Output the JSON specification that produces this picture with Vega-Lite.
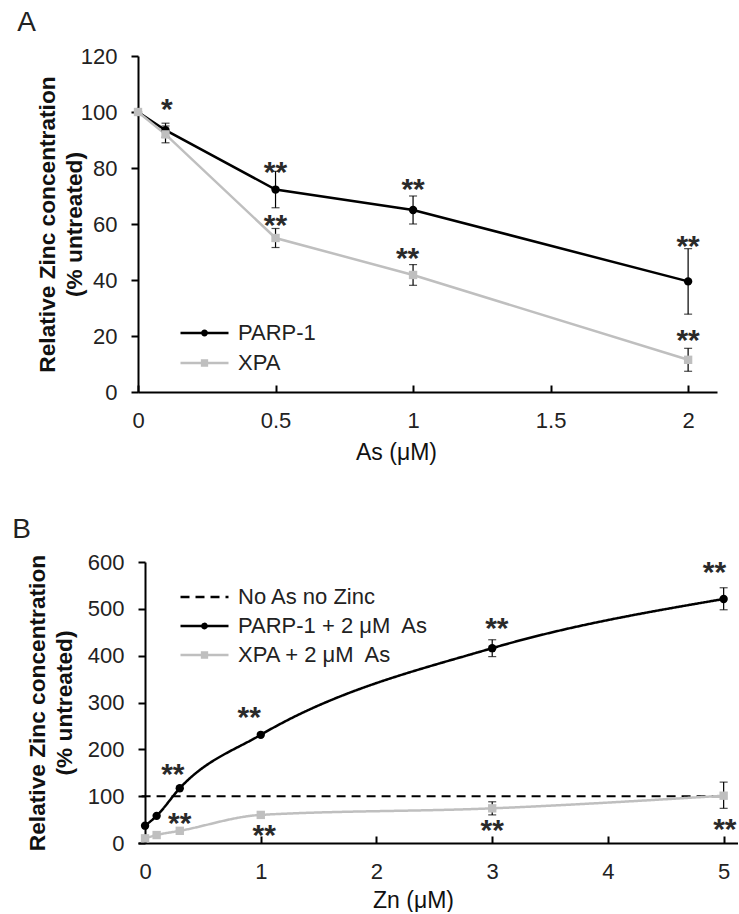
{
  "$schema": "https://vega.github.io/schema/vega-lite/v6.json",
  "background": "white",
  "padding": {"left": 12, "top": 9, "right": 0, "bottom": 0},
  "spacing": 52,
  "resolve": {
    "scale": {"stroke": "independent", "fill": "independent", "shape": "independent", "strokeDash": "independent"},
    "legend": {"stroke": "independent", "fill": "independent", "shape": "independent", "strokeDash": "independent"}
  },
  "config": {
    "font": "Liberation Sans",
    "view": {"stroke": null},
    "axis": {
      "grid": false,
      "domainColor": "black",
      "domainWidth": 2,
      "tickColor": "black",
      "tickWidth": 2,
      "tickSize": 7,
      "labelFont": "Liberation Sans",
      "labelFontSize": 22,
      "labelColor": "#222222",
      "titleFont": "Liberation Sans",
      "titleFontSize": 23,
      "titleColor": "#111111",
      "titleFontWeight": "normal"
    },
    "legend": {"padding": 0, "labelFont": "Liberation Sans", "labelFontSize": 22, "labelColor": "#222222", "labelLimit": 0},
    "title": {"fontSize": 28, "fontWeight": "normal", "anchor": "start", "frame": "bounds", "color": "#222222", "font": "Liberation Sans"}
  },
  "vconcat": [
    {
      "width": 579,
      "height": 336,
      "title": {"text": "A", "dx": -19, "offset": 8},
      "data": {
        "values": [
          {"series": "PARP-1", "x": 0, "v": 100, "lo": null, "hi": null},
          {"series": "PARP-1", "x": 0.1, "v": 93.5, "lo": 91, "hi": 96},
          {"series": "PARP-1", "x": 0.5, "v": 72.3, "lo": 65.8, "hi": 78.8},
          {"series": "PARP-1", "x": 1, "v": 65, "lo": 60, "hi": 70},
          {"series": "PARP-1", "x": 2, "v": 39.5, "lo": 27.8, "hi": 51.2},
          {"series": "XPA", "x": 0, "v": 100, "lo": null, "hi": null},
          {"series": "XPA", "x": 0.1, "v": 92, "lo": 89, "hi": 95},
          {"series": "XPA", "x": 0.5, "v": 55, "lo": 51.6, "hi": 58.4},
          {"series": "XPA", "x": 1, "v": 41.8, "lo": 38.1, "hi": 45.5},
          {"series": "XPA", "x": 2, "v": 11.5, "lo": 7.4, "hi": 15.6}
        ]
      },
      "encoding": {
        "x": {
          "field": "x", "type": "quantitative",
          "scale": {"domain": [0, 2.105], "nice": false, "zero": false},
          "axis": {"values": [0, 0.5, 1, 1.5, 2], "format": "~g", "title": "As (μM)", "tickSize": -7, "labelPadding": 25, "titlePadding": 10, "titleX": 258, "labelFlush": false}
        },
        "y": {
          "field": "v", "type": "quantitative",
          "scale": {"domain": [0, 120], "nice": false},
          "axis": {"values": [0, 20, 40, 60, 80, 100, 120], "title": ["Relative Zinc concentration", "(% untreated)"], "titleFontWeight": "bold", "titleFontSize": 22.7, "titleLineHeight": 27, "labelPadding": 14, "titlePadding": -6}
        }
      },
      "layer": [
        {
          "mark": {"type": "line", "strokeWidth": 2.5},
          "encoding": {
            "stroke": {
              "field": "series", "type": "nominal",
              "scale": {"domain": ["PARP-1", "XPA"], "range": ["#000000", "#bfbfbf"]},
              "legend": {"orient": "none", "legendX": 41, "legendY": 264, "title": null, "symbolSize": 2304, "symbolStrokeWidth": 2.5, "symbolOpacity": 1, "labelOffset": 8, "rowPadding": 4, "clipHeight": 26, "labelExpr": "datum.value === 'XPA' ? '\u00a0XPA' : datum.label"}
            }
          }
        },
        {
          "transform": [{"filter": "isValid(datum.lo)"}],
          "mark": {"type": "rule", "color": "black", "strokeWidth": 1.2},
          "encoding": {"y": {"field": "lo", "type": "quantitative"}, "y2": {"field": "hi"}}
        },
        {
          "transform": [{"filter": "isValid(datum.lo)"}],
          "mark": {"type": "tick", "orient": "horizontal", "color": "black", "size": 8, "thickness": 1.2},
          "encoding": {"y": {"field": "lo", "type": "quantitative"}}
        },
        {
          "transform": [{"filter": "isValid(datum.hi)"}],
          "mark": {"type": "tick", "orient": "horizontal", "color": "black", "size": 8, "thickness": 1.2},
          "encoding": {"y": {"field": "hi", "type": "quantitative"}}
        },
        {
          "transform": [{"filter": "datum.series === 'PARP-1'"}],
          "mark": {"type": "point", "shape": "circle", "filled": true, "opacity": 1, "color": "#000000", "size": 70}
        },
        {
          "transform": [{"filter": "datum.series === 'XPA'"}],
          "mark": {"type": "point", "shape": "square", "filled": true, "opacity": 1, "color": "#bfbfbf", "size": 70}
        },
        {
          "mark": {"type": "point", "filled": true, "opacity": 0},
          "encoding": {
            "fill": {"field": "series", "type": "nominal", "scale": {"domain": ["PARP-1", "XPA"], "range": ["#000000", "#bfbfbf"]}, "legend": {"orient": "none", "legendX": 41, "legendY": 264, "title": null, "symbolSize": 2304, "symbolStrokeWidth": 2.5, "symbolOpacity": 1, "labelOffset": 8, "rowPadding": 4, "clipHeight": 26, "labelExpr": "datum.value === 'XPA' ? '\u00a0XPA' : datum.label"}},
            "shape": {"field": "series", "type": "nominal", "scale": {"domain": ["PARP-1", "XPA"], "range": ["M-1,0H1M-0.09,0A0.09,0.09 0 1,1 0.09,0A0.09,0.09 0 1,1 -0.09,0Z", "M-1,0H1M-0.1,-0.1H0.1V0.1H-0.1Z"]}, "legend": {"orient": "none", "legendX": 41, "legendY": 264, "title": null, "symbolSize": 2304, "symbolStrokeWidth": 2.5, "symbolOpacity": 1, "labelOffset": 8, "rowPadding": 4, "clipHeight": 26, "labelExpr": "datum.value === 'XPA' ? '\u00a0XPA' : datum.label"}}
          }
        },
        {
          "data": {
            "values": [
              {"x": 0.105, "v": 103.5, "label": "*"},
              {"x": 0.5, "v": 81, "label": "**"},
              {"x": 0.5, "v": 62, "label": "**"},
              {"x": 1.0, "v": 75, "label": "**"},
              {"x": 0.98, "v": 50.5, "label": "**"},
              {"x": 2.0, "v": 54.5, "label": "**"},
              {"x": 2.0, "v": 21, "label": "**"}
            ]
          },
          "mark": {"type": "text", "fontSize": 30, "fontWeight": "bold", "baseline": "alphabetic", "dy": 17, "color": "#2a2a2a", "font": "Liberation Sans"},
          "encoding": {"text": {"field": "label"}}
        }
      ]
    },
    {
      "width": 600,
      "height": 281,
      "title": {"text": "B", "dx": -14, "offset": 7},
      "data": {
        "values": [
          {"series": "PARP-1 + 2 μM As", "x": 0, "v": 37, "lo": null, "hi": null},
          {"series": "PARP-1 + 2 μM As", "x": 0.1, "v": 58, "lo": null, "hi": null},
          {"series": "PARP-1 + 2 μM As", "x": 0.3, "v": 117, "lo": null, "hi": null},
          {"series": "PARP-1 + 2 μM As", "x": 1, "v": 231, "lo": null, "hi": null},
          {"series": "PARP-1 + 2 μM As", "x": 3, "v": 416, "lo": 398, "hi": 434},
          {"series": "PARP-1 + 2 μM As", "x": 5, "v": 521, "lo": 498, "hi": 545},
          {"series": "XPA + 2 μM As", "x": 0, "v": 10, "lo": null, "hi": null},
          {"series": "XPA + 2 μM As", "x": 0.1, "v": 17, "lo": null, "hi": null},
          {"series": "XPA + 2 μM As", "x": 0.3, "v": 26, "lo": null, "hi": null},
          {"series": "XPA + 2 μM As", "x": 1, "v": 60, "lo": null, "hi": null},
          {"series": "XPA + 2 μM As", "x": 3, "v": 74, "lo": 60, "hi": 88},
          {"series": "XPA + 2 μM As", "x": 5, "v": 101, "lo": 74, "hi": 130}
        ]
      },
      "encoding": {
        "x": {
          "field": "x", "type": "quantitative",
          "scale": {"domain": [-0.061, 5.124], "nice": false, "zero": false},
          "axis": {"values": [0, 1, 2, 3, 4, 5], "format": "~g", "title": "Zn (μM)", "tickSize": -7, "labelPadding": 25, "titlePadding": 7, "titleX": 275, "labelFlush": false}
        },
        "y": {
          "field": "v", "type": "quantitative",
          "scale": {"domain": [0, 600], "nice": false},
          "axis": {"values": [0, 100, 200, 300, 400, 500, 600], "title": ["Relative Zinc concentration", "(% untreated)"], "titleFontWeight": "bold", "titleFontSize": 22.7, "titleLineHeight": 27, "labelPadding": 14, "titlePadding": 11, "offset": -7}
        }
      },
      "layer": [
        {
          "data": {"values": [
            {"series": "No As no Zinc", "x": -0.03, "v": 100},
            {"series": "No As no Zinc", "x": 5, "v": 100}
          ]},
          "mark": {"type": "line", "strokeWidth": 2},
          "encoding": {
            "stroke": {"field": "series", "type": "nominal", "scale": {"domain": ["No As no Zinc", "PARP-1 + 2 μM As", "XPA + 2 μM As"], "range": ["#000000", "#000000", "#bfbfbf"]}, "legend": {"orient": "none", "legendX": 41, "legendY": 22, "title": null, "symbolSize": 2304, "symbolStrokeWidth": 2.5, "symbolOpacity": 1, "labelOffset": 8, "rowPadding": 3, "clipHeight": 26, "labelExpr": "datum.value === 'XPA + 2 μM As' ? '\u00a0XPA + 2 μM\u00a0 As' : datum.value === 'PARP-1 + 2 μM As' ? 'PARP-1 + 2 μM\u00a0 As' : datum.label"}},
            "strokeDash": {"field": "series", "type": "nominal", "scale": {"domain": ["No As no Zinc", "PARP-1 + 2 μM As", "XPA + 2 μM As"], "range": [[9, 6], [1, 0], [1, 0]]}, "legend": {"orient": "none", "legendX": 41, "legendY": 22, "title": null, "symbolSize": 2304, "symbolStrokeWidth": 2.5, "symbolOpacity": 1, "labelOffset": 8, "rowPadding": 3, "clipHeight": 26, "labelExpr": "datum.value === 'XPA + 2 μM As' ? '\u00a0XPA + 2 μM\u00a0 As' : datum.value === 'PARP-1 + 2 μM As' ? 'PARP-1 + 2 μM\u00a0 As' : datum.label"}}
          }
        },
        {
          "mark": {"type": "line", "strokeWidth": 2.5, "interpolate": "monotone"},
          "encoding": {
            "stroke": {"field": "series", "type": "nominal", "scale": {"domain": ["No As no Zinc", "PARP-1 + 2 μM As", "XPA + 2 μM As"], "range": ["#000000", "#000000", "#bfbfbf"]}},
            "strokeDash": {"field": "series", "type": "nominal", "scale": {"domain": ["No As no Zinc", "PARP-1 + 2 μM As", "XPA + 2 μM As"], "range": [[9, 6], [1, 0], [1, 0]]}}
          }
        },
        {
          "transform": [{"filter": "isValid(datum.lo)"}],
          "mark": {"type": "rule", "color": "black", "strokeWidth": 1.2},
          "encoding": {"y": {"field": "lo", "type": "quantitative"}, "y2": {"field": "hi"}}
        },
        {
          "transform": [{"filter": "isValid(datum.lo)"}],
          "mark": {"type": "tick", "orient": "horizontal", "color": "black", "size": 8, "thickness": 1.2},
          "encoding": {"y": {"field": "lo", "type": "quantitative"}}
        },
        {
          "transform": [{"filter": "isValid(datum.hi)"}],
          "mark": {"type": "tick", "orient": "horizontal", "color": "black", "size": 8, "thickness": 1.2},
          "encoding": {"y": {"field": "hi", "type": "quantitative"}}
        },
        {
          "transform": [{"filter": "datum.series === 'PARP-1 + 2 μM As'"}],
          "mark": {"type": "point", "shape": "circle", "filled": true, "opacity": 1, "color": "#000000", "size": 70}
        },
        {
          "transform": [{"filter": "datum.series === 'XPA + 2 μM As'"}],
          "mark": {"type": "point", "shape": "square", "filled": true, "opacity": 1, "color": "#bfbfbf", "size": 70}
        },
        {
          "mark": {"type": "point", "filled": true, "opacity": 0},
          "encoding": {
            "fill": {"field": "series", "type": "nominal", "scale": {"domain": ["No As no Zinc", "PARP-1 + 2 μM As", "XPA + 2 μM As"], "range": ["transparent", "#000000", "#bfbfbf"]}, "legend": {"orient": "none", "legendX": 41, "legendY": 22, "title": null, "symbolSize": 2304, "symbolStrokeWidth": 2.5, "symbolOpacity": 1, "labelOffset": 8, "rowPadding": 3, "clipHeight": 26, "labelExpr": "datum.value === 'XPA + 2 μM As' ? '\u00a0XPA + 2 μM\u00a0 As' : datum.value === 'PARP-1 + 2 μM As' ? 'PARP-1 + 2 μM\u00a0 As' : datum.label"}},
            "shape": {"field": "series", "type": "nominal", "scale": {"domain": ["No As no Zinc", "PARP-1 + 2 μM As", "XPA + 2 μM As"], "range": ["M-1,0H1", "M-1,0H1M-0.09,0A0.09,0.09 0 1,1 0.09,0A0.09,0.09 0 1,1 -0.09,0Z", "M-1,0H1M-0.1,-0.1H0.1V0.1H-0.1Z"]}, "legend": {"orient": "none", "legendX": 41, "legendY": 22, "title": null, "symbolSize": 2304, "symbolStrokeWidth": 2.5, "symbolOpacity": 1, "labelOffset": 8, "rowPadding": 3, "clipHeight": 26, "labelExpr": "datum.value === 'XPA + 2 μM As' ? '\u00a0XPA + 2 μM\u00a0 As' : datum.value === 'PARP-1 + 2 μM As' ? 'PARP-1 + 2 μM\u00a0 As' : datum.label"}}
          }
        },
        {
          "data": {
            "values": [
              {"x": 0.24, "v": 162, "label": "**"},
              {"x": 0.3, "v": 57, "label": "**"},
              {"x": 0.9, "v": 283, "label": "**"},
              {"x": 1.03, "v": 31, "label": "**"},
              {"x": 3.04, "v": 473, "label": "**"},
              {"x": 3.0, "v": 43, "label": "**"},
              {"x": 4.92, "v": 594, "label": "**"},
              {"x": 5.01, "v": 45, "label": "**"}
            ]
          },
          "mark": {"type": "text", "fontSize": 30, "fontWeight": "bold", "baseline": "alphabetic", "dy": 17, "color": "#2a2a2a", "font": "Liberation Sans"},
          "encoding": {"text": {"field": "label"}}
        }
      ]
    }
  ]
}
